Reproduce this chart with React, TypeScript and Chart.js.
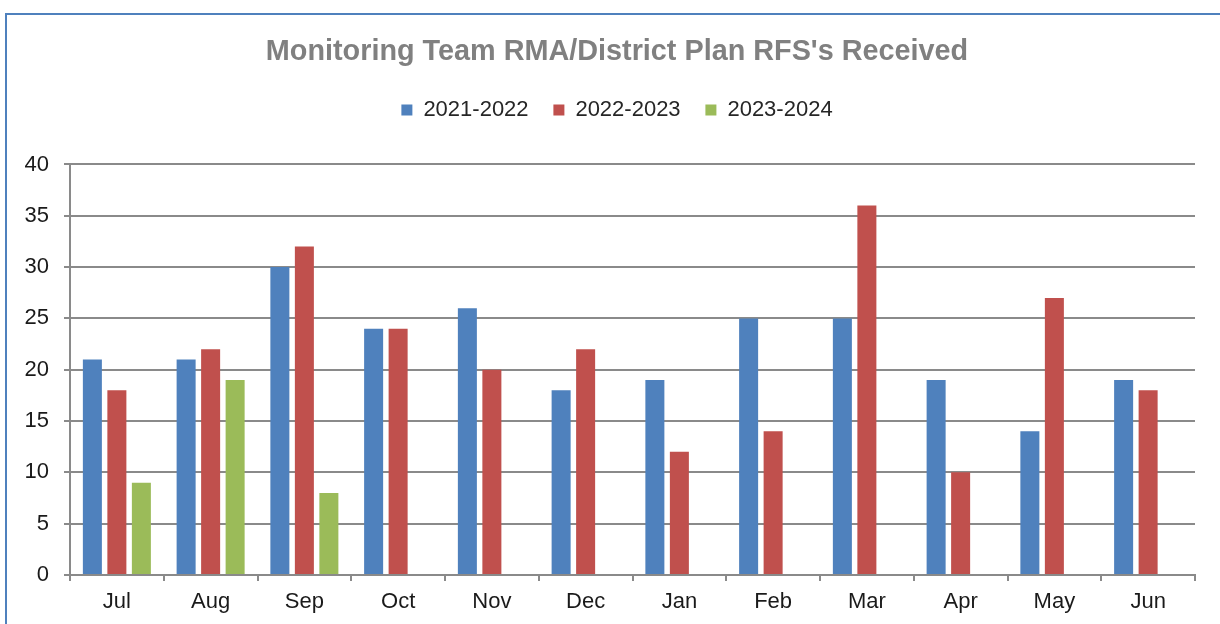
import React, { useEffect, useRef } from "react";
import { Chart, registerables } from "chart.js";

Chart.register(...registerables);

const months = ["Jul", "Aug", "Sep", "Oct", "Nov", "Dec", "Jan", "Feb", "Mar", "Apr", "May", "Jun"];
const fy2122 = [21, 21, 30, 24, 26, 18, 19, 25, 25, 19, 14, 19];
const fy2223 = [18, 22, 32, 24, 20, 22, 12, 14, 36, 10, 27, 18];
const fy2324 = [9, 19, 8, null, null, null, null, null, null, null, null, null];
const seriesNames = ["2021-2022", "2022-2023", "2023-2024"];
const yTicks = [0, 5, 10, 15, 20, 25, 30, 35, 40];

const FONT = "'Liberation Sans', Arial, sans-serif";
const GRID = "#8a8a8a";

export default function App() {
  const ref = useRef<HTMLCanvasElement | null>(null);

  useEffect(() => {
    if (!ref.current) return;
    const chart = new Chart(ref.current, {
      type: "bar",
      data: {
        labels: months,
        datasets: [
          { label: seriesNames[0], data: fy2122, backgroundColor: "#4f81bd" },
          { label: seriesNames[1], data: fy2223, backgroundColor: "#c0504d" },
          { label: seriesNames[2], data: fy2324, backgroundColor: "#9bbb59" },
        ],
      },
      options: {
        responsive: false,
        animation: false,
        maintainAspectRatio: false,
        datasets: { bar: { categoryPercentage: 0.784, barPercentage: 0.776 } },
        layout: { padding: { left: 14, right: 0, top: 0, bottom: 0 } },
        plugins: {
          tooltip: { enabled: false },
          title: {
            display: true,
            text: "Monitoring Team RMA/District Plan RFS's Received",
            color: "#808080",
            font: { family: FONT, size: 28.8, weight: "bold" },
            padding: { top: 35, bottom: 4.6 },
          },
          legend: {
            display: true,
            position: "top",
            labels: {
              color: "#262626",
              font: { family: FONT, size: 22 },
              boxWidth: 11,
              boxHeight: 11,
              padding: 24.8,
            },
          },
        },
        scales: {
          x: {
            type: "category",
            position: "bottom",
            grid: {
              display: true,
              drawOnChartArea: false,
              drawTicks: true,
              tickLength: 6,
              color: GRID,
              lineWidth: 2,
            },
            border: { display: true, color: GRID, width: 2 },
            ticks: { color: "#1a1a1a", font: { family: FONT, size: 22 }, padding: 8 },
            afterFit: (s: any) => {
              s.height = 49;
            },
          },
          xTop: {
            type: "category",
            position: "top",
            grid: { display: false },
            border: { display: false },
            ticks: { display: false },
            afterFit: (s: any) => {
              s.height = 33.5;
            },
          },
          y: {
            type: "linear",
            position: "left",
            min: 0,
            max: 40,
            afterBuildTicks: (s: any) => {
              s.ticks = yTicks.map((v) => ({ value: v }));
            },
            grid: { color: GRID, lineWidth: 2, tickLength: 6, drawTicks: true },
            border: { display: true, color: GRID, width: 2 },
            ticks: { color: "#1a1a1a", font: { family: FONT, size: 22 }, padding: 15 },
            afterFit: (s: any) => {
              s.width = 56;
            },
          },
          yr: {
            type: "linear",
            position: "right",
            grid: { display: false },
            border: { display: false },
            ticks: { display: false },
            afterFit: (s: any) => {
              s.width = 25;
            },
          },
        },
      },
    } as any);
    return () => chart.destroy();
  }, []);

  return (
    <div
      style={{
        position: "absolute",
        left: 0,
        top: 0,
        width: 1220,
        height: 624,
        overflow: "hidden",
        background: "#ffffff",
      }}
    >
      <div
        style={{
          position: "absolute",
          left: 5,
          top: 13,
          width: 1240,
          height: 660,
          border: "2px solid #4f81bd",
          boxSizing: "border-box",
        }}
      />
      <canvas ref={ref} width={1220} height={624} style={{ position: "absolute", left: 0, top: 0 }} />
    </div>
  );
}
